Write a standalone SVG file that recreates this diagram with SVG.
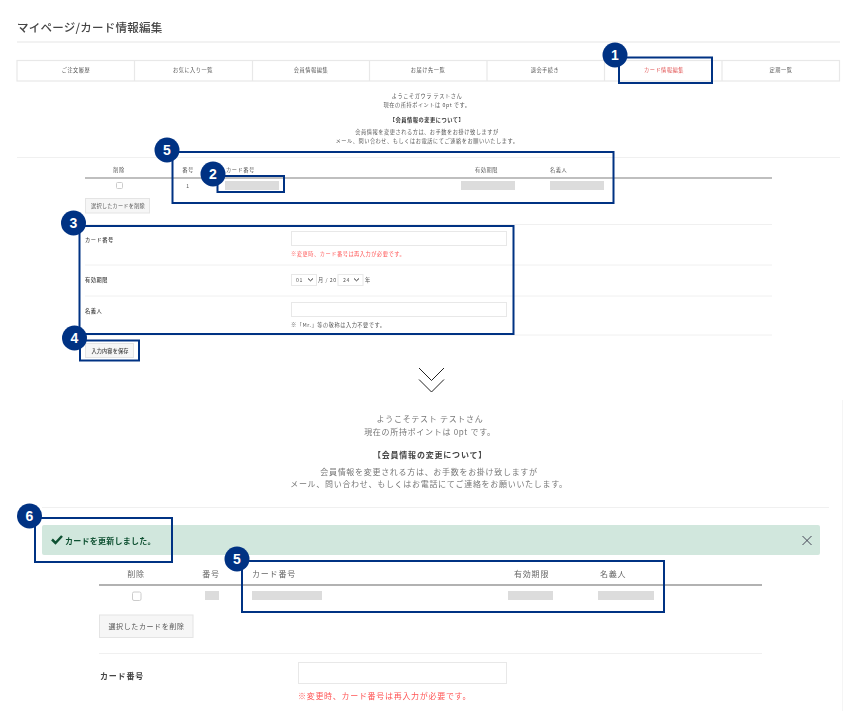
<svg xmlns="http://www.w3.org/2000/svg" width="860" height="727" viewBox="0 0 860 727">
<defs>
<filter id="soft" x="-5%" y="-5%" width="110%" height="110%"><feGaussianBlur stdDeviation="0.3"/></filter>
</defs>
<style>
text{font-family:"Noto Sans CJK JP","Liberation Sans",sans-serif;fill:#555}
.t5{font-size:5.2px;letter-spacing:.55px}
.t5b{font-size:5.2px;letter-spacing:.55px;font-weight:700;fill:#333}
.t5l{font-size:5.2px;letter-spacing:.55px;font-weight:500;fill:#444}
.t8{font-size:8px;letter-spacing:.7px;fill:#777}
.t8h{font-size:8px;letter-spacing:.8px;fill:#666}
.m{text-anchor:middle}
.sep{stroke:#f0f0f0;stroke-width:1;fill:none}
.grey{fill:#dcdcdc}
.field{fill:#fff;stroke:#e8e8e8;stroke-width:1}
.btn{fill:#f6f6f6;stroke:#e4e4e4;stroke-width:1}
.frame{fill:none;stroke:#003283;stroke-width:2}
.badge{fill:#003283}
.num{font-family:"Liberation Sans",Arial,sans-serif;font-size:14px;font-weight:700;fill:#fff;text-anchor:middle}
.red{fill:#f55}
</style>
<rect width="860" height="727" fill="#fff"/>

<g id="page-top" filter="url(#soft)">
<text x="17" y="32" font-size="11.500" font-weight="500" letter-spacing=".25" style="fill:#444">マイページ/カード情報編集</text>
<line x1="17" y1="42" x2="840" y2="42" stroke="#e6e6e6" stroke-width="1.200"/>
<rect x="17" y="60.500" width="822.500" height="20.500" fill="#fff" stroke="#e8e8e8" stroke-width="1.200"/>
<path class="sep" style="stroke:#e8e8e8;stroke-width:1.200" d="M134.500 60.500V81M252.500 60.500V81M369.500 60.500V81M487 60.500V81M604.500 60.500V81M722 60.500V81"/>
<text class="t5 m" x="76" y="72">ご注文履歴</text>
<text class="t5 m" x="193" y="72">お気に入り一覧</text>
<text class="t5 m" x="311" y="72">会員情報編集</text>
<text class="t5 m" x="428" y="72">お届け先一覧</text>
<text class="t5 m" x="545" y="72">退会手続き</text>
<text class="t5 m" x="664" y="72" style="fill:#e05050">カード情報編集</text>
<text class="t5 m" x="781" y="72">定期一覧</text>
<text class="t5 m" x="427" y="98">ようこそガウラ テストさん</text>
<text class="t5 m" x="427" y="107">現在の所持ポイントは 0pt です。</text>
<text class="t5b m" x="427" y="122">【会員情報の変更について】</text>
<text class="t5 m" x="427" y="134">会員情報を変更される方は、お手数をお掛け致しますが</text>
<text class="t5 m" x="427" y="143">メール、問い合わせ、もしくはお電話にてご連絡をお願いいたします。</text>
<line class="sep" x1="17" y1="157.500" x2="840" y2="157.500"/>
</g>

<g id="card-table-top" filter="url(#soft)">
<text class="t5 m" x="119" y="172">削除</text>
<text class="t5 m" x="188" y="172">番号</text>
<text class="t5" x="226" y="172">カード番号</text>
<text class="t5" x="475" y="172">有効期限</text>
<text class="t5" x="550" y="172">名義人</text>
<line x1="85" y1="178" x2="772" y2="178" stroke="#aaa" stroke-width="1.300"/>
<rect x="116.500" y="182.500" width="6" height="6" rx="1" class="field" style="stroke:#ccc"/>
<text class="t5 m" x="188" y="188">1</text>
<rect class="grey" x="225" y="181" width="54" height="9"/>
<rect class="grey" x="461" y="181" width="54" height="9"/>
<rect class="grey" x="550" y="181" width="54" height="9"/>
<rect class="btn" x="85.500" y="198.500" width="64" height="14.500"/>
<text class="t5 m" x="118" y="208" style="letter-spacing:.2px">選択したカードを削除</text>
<line class="sep" x1="85" y1="224.500" x2="772" y2="224.500"/>
</g>

<g id="form-top" filter="url(#soft)">
<text class="t5l" x="85" y="242">カード番号</text>
<rect class="field" x="291.500" y="231.500" width="215" height="14"/>
<text class="t5 red" x="291" y="256">※変更時、カード番号は再入力が必要です。</text>
<line class="sep" x1="85" y1="265" x2="772" y2="265"/>
<text class="t5l" x="85" y="282">有効期限</text>
<rect class="field" x="291.500" y="274.500" width="25" height="11"/>
<text class="t5" x="296" y="282">01</text>
<path d="M308 278.500l2.500 2.300 2.500-2.300" fill="none" stroke="#333" stroke-width="1"/>
<text class="t5" x="318" y="282">月 / 20</text>
<rect class="field" x="338" y="274.500" width="25" height="11"/>
<text class="t5" x="343" y="282">24</text>
<path d="M354 278.500l2.500 2.300 2.500-2.300" fill="none" stroke="#333" stroke-width="1"/>
<text class="t5" x="365" y="282">年</text>
<line class="sep" x1="85" y1="296" x2="772" y2="296"/>
<text class="t5l" x="85" y="313">名義人</text>
<rect class="field" x="291.500" y="302.500" width="215" height="14"/>
<text class="t5" x="291" y="327">※「Mr.」等の敬称は入力不要です。</text>
<line class="sep" x1="85" y1="335" x2="772" y2="335"/>
<rect class="btn" x="85.500" y="343.500" width="48" height="14"/>
<text class="t5l m" x="110" y="352.500" style="letter-spacing:.1px">入力内容を保存</text>
</g>

<g id="page-bottom" filter="url(#soft)">
<line x1="842.500" y1="400" x2="842.500" y2="711" stroke="#f5f5f5"/>
<text class="t8 m" x="430" y="422">ようこそテスト テストさん</text>
<text class="t8 m" x="430" y="435">現在の所持ポイントは 0pt です。</text>
<text class="t8h m" x="430" y="458" style="font-weight:700;fill:#444">【会員情報の変更について】</text>
<text class="t8 m" x="429" y="475">会員情報を変更される方は、お手数をお掛け致しますが</text>
<text class="t8 m" x="429" y="487">メール、問い合わせ、もしくはお電話にてご連絡をお願いいたします。</text>
<line class="sep" x1="42" y1="507.500" x2="829" y2="507.500"/>
<rect x="42" y="525" width="778" height="30" rx="2" fill="#d1e7dd"/>
<path d="M52 539.500l3.500 3.500 6.500-7" fill="none" stroke="#0f5132" stroke-width="2.500"/>
<text x="65" y="543.500" font-size="8" font-weight="700" letter-spacing=".25" style="fill:#0f5132">カードを更新しました。</text>
<path d="M802.500 536l9 9M811.500 536l-9 9" fill="none" stroke="#445" stroke-width="1"/>
</g>

<g id="card-table-bottom" filter="url(#soft)">
<text class="t8h m" x="136" y="577">削除</text>
<text class="t8h m" x="211" y="577">番号</text>
<text class="t8h" x="252" y="577">カード番号</text>
<text class="t8h" x="514" y="577">有効期限</text>
<text class="t8h" x="600" y="577">名義人</text>
<line x1="99" y1="585" x2="762" y2="585" stroke="#666" stroke-width="1.200"/>
<rect x="132.500" y="592" width="8.500" height="8.500" rx="1.500" class="field" style="stroke:#ccc"/>
<rect class="grey" x="205" y="591" width="14" height="9"/>
<rect class="grey" x="252" y="591" width="70" height="9"/>
<rect class="grey" x="508" y="591" width="45" height="9"/>
<rect class="grey" x="598" y="591" width="56" height="9"/>
<rect class="btn" x="99.500" y="615" width="93.500" height="22.500"/>
<text class="m" x="146.500" y="629" font-size="7" letter-spacing=".6" style="fill:#555">選択したカードを削除</text>
<line class="sep" x1="99" y1="653.500" x2="762" y2="653.500"/>
</g>

<g id="form-bottom" filter="url(#soft)">
<text class="t8h" x="100" y="679" style="font-weight:700;fill:#444">カード番号</text>
<rect class="field" x="298.500" y="662.500" width="208" height="21"/>
<text class="t8 red" x="298" y="699" style="fill:#f55">※変更時、カード番号は再入力が必要です。</text>
</g>

<g id="connectors">
<path d="M419 368l12.500 12.500 12.500-12.500M419 379.500l12.500 12.500 12.500-12.500" fill="none" stroke="#222" stroke-width="1"/>
</g>

<g id="callout-1"><rect class="frame" x="619" y="57.500" width="93" height="25.500"/><circle class="badge" cx="615" cy="55" r="12.500"/><text class="num" x="615" y="60">1</text></g>
<g id="callout-5a"><rect class="frame" x="172.500" y="152" width="441" height="51"/><circle class="badge" cx="167" cy="150" r="12.500"/><text class="num" x="167" y="155">5</text></g>
<g id="callout-2"><rect class="frame" x="217.500" y="176" width="66.500" height="16"/><circle class="badge" cx="213" cy="174" r="12.500"/><text class="num" x="213" y="179">2</text></g>
<g id="callout-3"><rect class="frame" x="79.500" y="226" width="434" height="108"/><circle class="badge" cx="73.500" cy="223" r="12.500"/><text class="num" x="73.500" y="228">3</text></g>
<g id="callout-4"><rect class="frame" x="80" y="340.500" width="59" height="20"/><circle class="badge" cx="74.500" cy="338" r="12.500"/><text class="num" x="74.500" y="343">4</text></g>
<g id="callout-6"><rect class="frame" x="35" y="518" width="137" height="44"/><circle class="badge" cx="29.500" cy="516" r="12.500"/><text class="num" x="29.500" y="521">6</text></g>
<g id="callout-5b"><rect class="frame" x="242" y="561" width="422" height="51"/><circle class="badge" cx="237" cy="559" r="12.500"/><text class="num" x="237" y="564">5</text></g>
</svg>
